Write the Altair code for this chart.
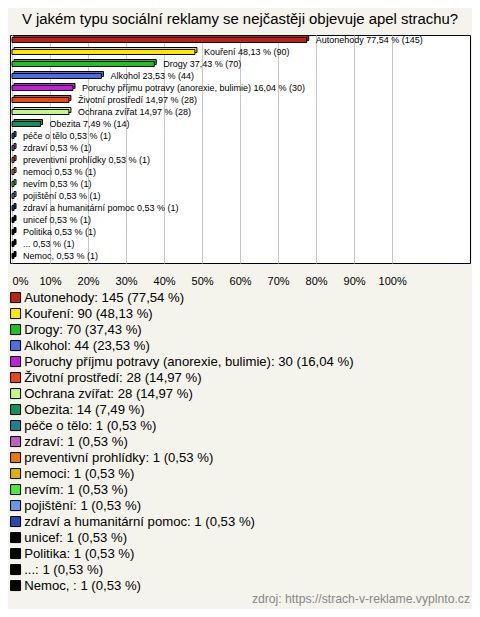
import altair as alt
import pandas as pd

categories = [
    "Autonehody", "Kouření", "Drogy", "Alkohol",
    "Poruchy příjmu potravy (anorexie, bulimie)", "Životní prostředí",
    "Ochrana zvířat", "Obezita", "péče o tělo", "zdraví",
    "preventivní prohlídky", "nemoci", "nevím", "pojištění",
    "zdraví a humanitární pomoc", "unicef", "Politika", "...", "Nemoc, ",
]
counts = [145, 90, 70, 44, 30, 28, 28, 14, 1, 1, 1, 1, 1, 1, 1, 1, 1, 1, 1]
percents = [77.54, 48.13, 37.43, 23.53, 16.04, 14.97, 14.97, 7.49,
            0.53, 0.53, 0.53, 0.53, 0.53, 0.53, 0.53, 0.53, 0.53, 0.53, 0.53]
colors = [
    "#c0200f", "#ffe800", "#22c022", "#4a6fe0", "#c020d8", "#e84812",
    "#c4f884", "#139060", "#1f8090", "#c060c0", "#e87a00", "#e0b000",
    "#50e838", "#6a98e8", "#2a48b0", "#000000", "#000000", "#000000",
    "#000000",
]
x_ticks = [0, 10, 20, 30, 40, 50, 60, 70, 80, 90, 100]

title_text = "V jakém typu sociální reklamy se nejčastěji objevuje apel strachu?"
source_text = "zdroj: https://strach-v-reklame.vyplnto.cz"


def fmt(v):
    return f"{v:.2f}".replace(".", ",")


df = pd.DataFrame({
    "cat": categories,
    "count": counts,
    "pct": percents,
    "color": colors,
})
df["bar_label"] = [f"{c} {fmt(p)} % ({n})" for c, p, n in zip(categories, percents, counts)]
df["legend_label"] = [f"{c}: {n} ({fmt(p)} %)" for c, p, n in zip(categories, percents, counts)]
df["zero"] = 0.0

W, H = 460, 228
BG = "#f4f4ec"

x_scale = alt.Scale(domain=[-0.53, 120.5], nice=False, zero=False)
y_enc = alt.Y("cat:N", sort=categories, axis=None,
              scale=alt.Scale(paddingInner=0.0, paddingOuter=0.0))

color_enc = alt.Color(
    "legend_label:N",
    sort=list(df["legend_label"]),
    scale=alt.Scale(domain=list(df["legend_label"]), range=colors),
    title=None,
    legend=alt.Legend(
        orient="none", legendX=-1, legendY=256, padding=0,
        symbolType="square", symbolSize=100, symbolStrokeColor="black",
        symbolStrokeWidth=1, symbolOpacity=1, symbolOffset=0,
        labelFont="Liberation Sans", labelFontSize=13.15, labelColor="#000000",
        labelOffset=2, rowPadding=1.0, labelLimit=600,
    ),
)

base = alt.Chart(df)

back = base.mark_bar(
    size=5, stroke="black", strokeWidth=1, xOffset=2, x2Offset=2, yOffset=-3,
).encode(
    x=alt.X("zero:Q", scale=x_scale,
            axis=alt.Axis(values=x_ticks, format="d", labelExpr="datum.value + '%'",
                          grid=True, gridColor="#c8c8c8", gridWidth=1,
                          ticks=False, domain=False, labelPadding=12,
                          labelFlush=5,
                          labelFont="Liberation Sans", labelFontSize=11,
                          labelColor="#000000", title=None)),
    x2="pct:Q",
    y=y_enc,
    color=color_enc,
)

front = base.mark_bar(
    size=5, stroke="black", strokeWidth=1, yOffset=-1,
).encode(
    x=alt.X("zero:Q", scale=x_scale),
    x2="pct:Q",
    y=y_enc,
    color=alt.Color("legend_label:N", sort=list(df["legend_label"]),
                    scale=alt.Scale(domain=list(df["legend_label"]), range=colors),
                    legend=None),
)

labels = base.mark_text(
    align="left", baseline="middle", dx=9, dy=-1,
    font="Liberation Sans", fontSize=9.0, color="#000000",
).encode(
    x=alt.X("pct:Q", scale=x_scale),
    y=y_enc,
    text="bar_label:N",
)

src = alt.Chart(pd.DataFrame({"t": [source_text]})).mark_text(
    align="right", baseline="middle", font="Liberation Sans", fontSize=12.2,
    color="#888888",
).encode(
    x=alt.value(W),
    y=alt.value(564),
    text="t:N",
)

chart = alt.layer(back, front, labels, src).properties(
    width=W,
    height=H,
    title=alt.TitleParams(
        text=title_text, font="Liberation Sans", fontSize=14.9, fontWeight="normal",
        color="#000000", anchor="middle", offset=8,
    ),
    autosize=alt.AutoSizeParams(type="none"),
    padding={"left": 2, "top": 27, "right": 2, "bottom": 346},
    background=BG,
).configure_view(
    stroke="black", strokeWidth=1, fill="white",
)

chart.save("out.html", embed_options={"renderer": "svg", "actions": False})
